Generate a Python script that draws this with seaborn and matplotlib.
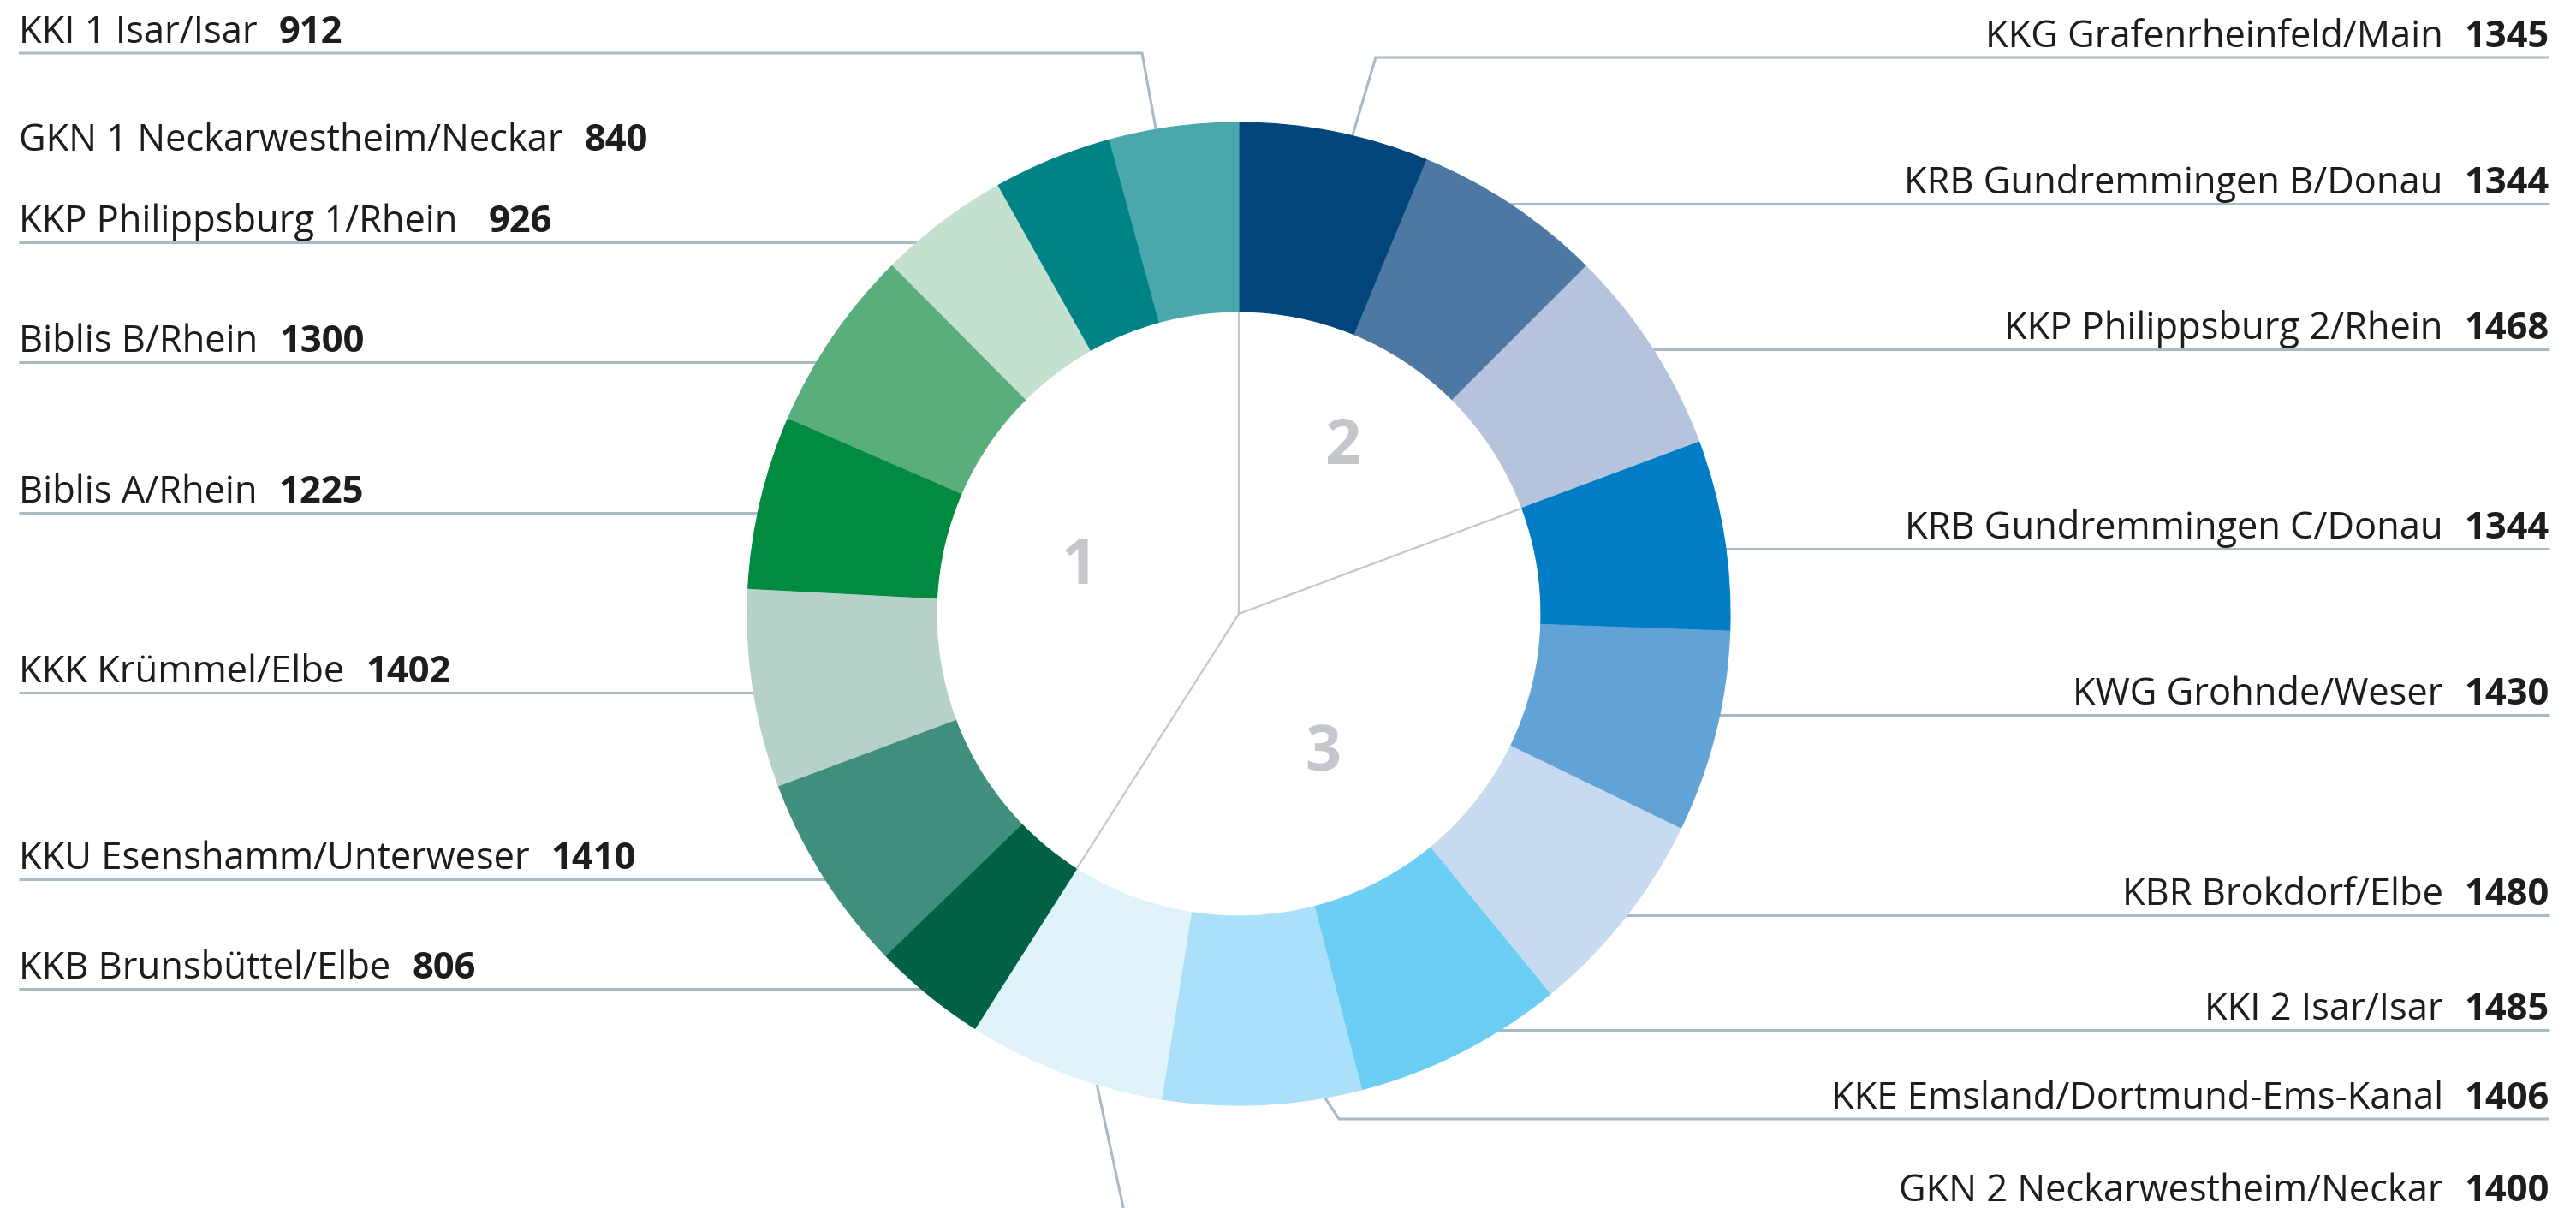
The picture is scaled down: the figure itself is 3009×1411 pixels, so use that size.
import numpy as np
import matplotlib
matplotlib.use("Agg")
import matplotlib.pyplot as plt
import seaborn as sns

# Kernkraftwerke, im Uhrzeigersinn ab 12 Uhr
names = [
    "KKG Grafenrheinfeld/Main", "KRB Gundremmingen B/Donau", "KKP Philippsburg 2/Rhein",
    "KRB Gundremmingen C/Donau", "KWG Grohnde/Weser", "KBR Brokdorf/Elbe",
    "KKI 2 Isar/Isar", "KKE Emsland/Dortmund-Ems-Kanal", "GKN 2 Neckarwestheim/Neckar",
    "KKB Brunsbüttel/Elbe", "KKU Esenshamm/Unterweser", "KKK Krümmel/Elbe",
    "Biblis A/Rhein", "Biblis B/Rhein", "KKP Philippsburg 1/Rhein",
    "GKN 1 Neckarwestheim/Neckar", "KKI 1 Isar/Isar",
]
leistung = [1345, 1344, 1468, 1344, 1430, 1480, 1485, 1406, 1400,
            806, 1410, 1402, 1225, 1300, 926, 840, 912]
gruppe = [2, 2, 2, 3, 3, 3, 3, 3, 3, 1, 1, 1, 1, 1, 1, 1, 1]
farben = ["#02457a", "#4e78a4", "#b5c4dc", "#007dc5", "#62a3d7", "#c6dbf0",
          "#6dcef5", "#abe0fa", "#e0f3fb",
          "#006144", "#408f7c", "#b5d1c9", "#008b41", "#5aae7b", "#c4e0cf",
          "#008385", "#4aa8ad"]

# Layout in Bildpixeln (y von oben): Seite, Linienhöhe, Knick-x, Anker (Winkel, r-Anteil), Abstand
layout = {
    "KKG Grafenrheinfeld/Main":        ("R", 67, 1607, (12.8, 0.85), 25),
    "KRB Gundremmingen B/Donau":       ("R", 238, None, None, 25),
    "KKP Philippsburg 2/Rhein":        ("R", 408, None, None, 25),
    "KRB Gundremmingen C/Donau":       ("R", 641, None, None, 25),
    "KWG Grohnde/Weser":               ("R", 835, None, None, 25),
    "KBR Brokdorf/Elbe":               ("R", 1069, None, None, 25),
    "KKI 2 Isar/Isar":                 ("R", 1203, None, None, 25),
    "KKE Emsland/Dortmund-Ems-Kanal":  ("R", 1307, 1564, (173.0, 0.89), 25),
    "GKN 2 Neckarwestheim/Neckar":     ("R", 1415, 1313, (201.2, 0.88), 25),
    "KKB Brunsbüttel/Elbe":            ("L", 1155, None, None, 25),
    "KKU Esenshamm/Unterweser":        ("L", 1027, None, None, 25),
    "KKK Krümmel/Elbe":                ("L", 809, None, None, 25),
    "Biblis A/Rhein":                  ("L", 599, None, None, 25),
    "Biblis B/Rhein":                  ("L", 423, None, None, 25),
    "KKP Philippsburg 1/Rhein":        ("L", 283, None, None, 36),
    "GKN 1 Neckarwestheim/Neckar":     ("L", 188, None, None, 25),
    "KKI 1 Isar/Isar":                 ("L", 62, 1334, (350.4, 0.85), 25),
}
# Position der Gruppenziffern (Winkel, Radius in px)
gruppen_pos = {2: (31, 235), 3: (148, 186), 1: (288, 196)}

W, H = 3009, 1411
LINIE = "#a9bac4"
TEXT = "#1d1d1b"
FS = 31.3

sns.set_theme(style="white")
plt.rcParams["font.family"] = ["Open Sans", "DejaVu Sans"]

fig = plt.figure(figsize=(W / 100, H / 100), dpi=100)
ax = fig.add_axes([0, 0, 1, 1])

cx, cy = 1447, H - 717
R = 574
ring = 221

wedges, _ = ax.pie(leistung, colors=farben, startangle=90, counterclock=False,
                   radius=R, center=(cx, cy),
                   wedgeprops=dict(width=ring, linewidth=0.8, zorder=2))
for w in wedges:
    w.set_edgecolor(w.get_facecolor())
ax.set_xlim(0, W)
ax.set_ylim(0, H)
ax.axis("off")


def polar(theta, r):
    t = np.radians(theta)
    return cx + r * np.sin(t), cy + r * np.cos(t)


total = sum(leistung)

# Trennlinien der Gruppen im Innenkreis
grenzen = [0.0]
acc = 0
for i in range(1, len(leistung)):
    acc += leistung[i - 1]
    if gruppe[i] != gruppe[i - 1]:
        grenzen.append(acc / total * 360)
for g in grenzen:
    x1, y1 = polar(g, R - ring)
    ax.plot([cx, x1], [cy, y1], color="#c3c7cb", lw=1.6, zorder=3,
            solid_capstyle="butt")

for g, (ang, rad) in gruppen_pos.items():
    x, y = polar(ang, rad)
    ax.text(x, y - 26, str(g), ha="center", va="baseline", fontsize=53,
            fontweight="bold", color="#c3c7cb", zorder=4)

# Beschriftungen und Führungslinien
renderer = fig.canvas.get_renderer()
for name, wert in zip(names, leistung):
    seite, ly, knick, anker, gap = layout[name]
    y = H - ly
    base = y + 12
    if seite == "L":
        t = ax.text(22, base, name, ha="left", va="baseline", fontsize=FS, color=TEXT)
        bb = t.get_window_extent(renderer)
        ax.text(bb.x1 + gap, base, str(wert), ha="left", va="baseline",
                fontsize=FS, fontweight="bold", color=TEXT)
        x0 = 22
    else:
        t = ax.text(2978, base, str(wert), ha="right", va="baseline",
                    fontsize=FS, fontweight="bold", color=TEXT)
        bb = t.get_window_extent(renderer)
        ax.text(bb.x0 - gap, base, name, ha="right", va="baseline",
                fontsize=FS, color=TEXT)
        x0 = 2978

    if knick is None:
        dy = y - cy
        dx = np.sqrt((0.92 * R) ** 2 - dy ** 2)
        xe = cx - dx if seite == "L" else cx + dx
        xs, ys = [x0, xe], [y, y]
    else:
        xa, ya = polar(anker[0], anker[1] * R)
        xs, ys = [x0, knick, xa], [y, y, ya]
    ax.plot(xs, ys, color=LINIE, lw=2.2, zorder=1,
            solid_capstyle="butt", solid_joinstyle="miter")

fig.savefig("out.png", dpi=100, facecolor="white")
